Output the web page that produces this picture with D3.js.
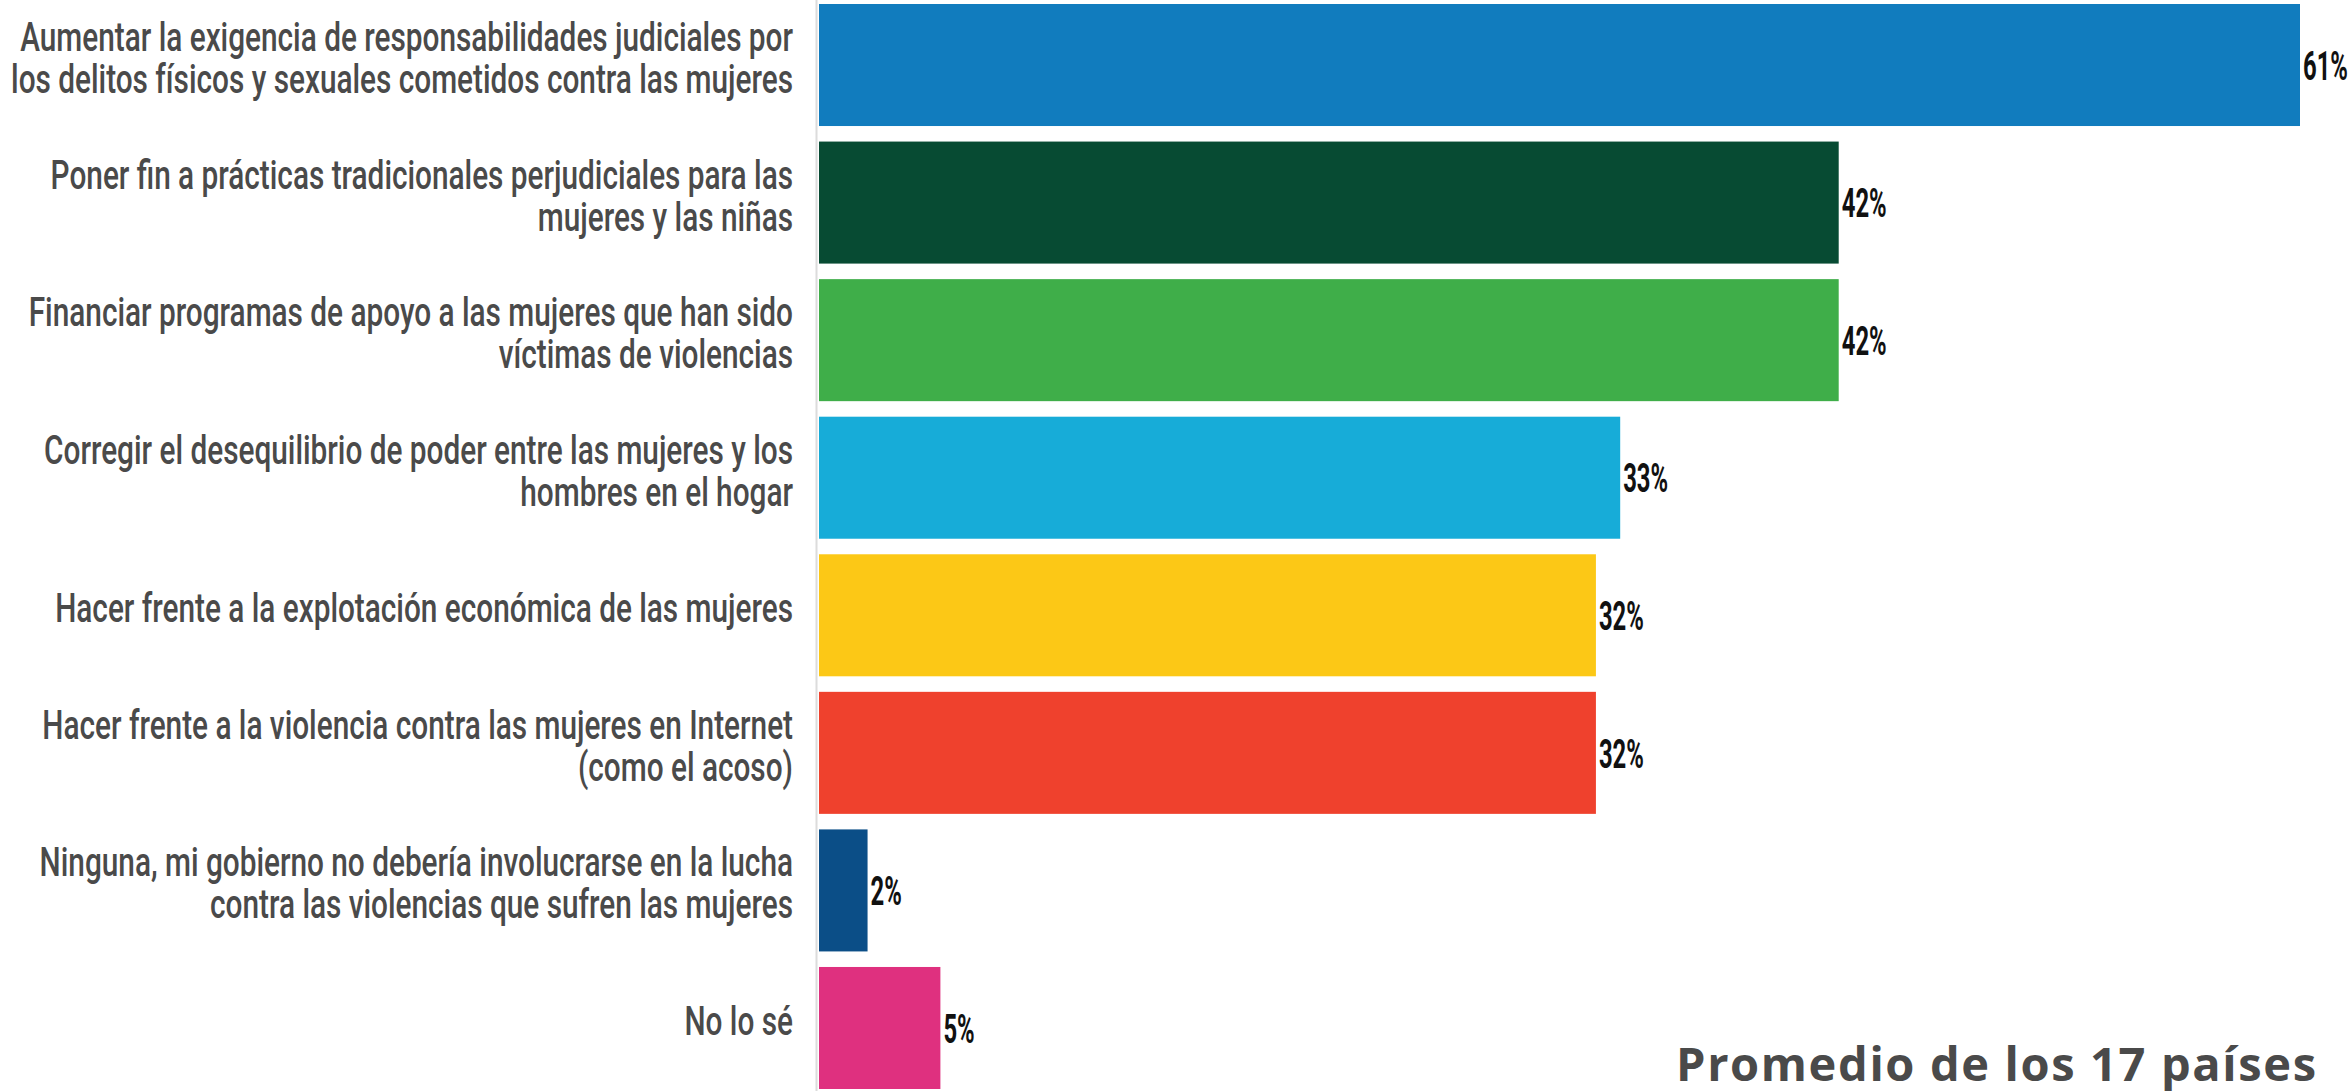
<!DOCTYPE html>
<html>
<head>
<meta charset="utf-8">
<script src="https://cdn.jsdelivr.net/npm/d3@7"></script>
<style>
  html, body { margin: 0; padding: 0; background: #fff; }
  svg { display: block; }
</style>
</head>
<body>
<div id="chart"></div>
<script>
const size = {
  width: 2351,
  height: 1091
}

// categories, one array of lines per bar
const labels = [
  ["Aumentar la exigencia de responsabilidades judiciales por", "los delitos físicos y sexuales cometidos contra las mujeres"],
  ["Poner fin a prácticas tradicionales perjudiciales para las", "mujeres y las niñas"],
  ["Financiar programas de apoyo a las mujeres que han sido", "víctimas de violencias"],
  ["Corregir el desequilibrio de poder entre las mujeres y los", "hombres en el hogar"],
  ["Hacer frente a la explotación económica de las mujeres"],
  ["Hacer frente a la violencia contra las mujeres en Internet", "(como el acoso)"],
  ["Ninguna, mi gobierno no debería involucrarse en la lucha", "contra las violencias que sufren las mujeres"],
  ["No lo sé"]
];
const values = [61, 42, 42, 33, 32, 32, 2, 5];
const colors = ["#117cbe", "#074b33", "#3fae49", "#17acd8", "#fcc816", "#ef412d", "#0b4e87", "#df307f"];
const footnote = "Promedio de los 17 países";

const ids = labels.map(function(d, i) { return i; });

const svg = d3.select("#chart")
  .append("svg")
  .attr("width", size.width)
  .attr("height", size.height);

var x = d3.scaleLinear().domain([0, 61]).range([819, 2300]),
    y = d3.scaleBand().domain(ids).range([4, 1089]).paddingInner(0.113).paddingOuter(0);

// axis line
svg.append("line")
    .attr("x1", 816.5).attr("x2", 816.5)
    .attr("y1", 0).attr("y2", size.height)
    .attr("stroke", "#dcdcdc")
    .attr("stroke-width", 2);

svg.selectAll(".bar")
    .data(values)
  .enter().append("rect")
    .attr("class", "bar")
    .attr("x", x(0))
    .attr("y", function(d, i) { return y(i); })
    .attr("width", function(d) { return x(d) - x(0); })
    .attr("height", y.bandwidth())
    .attr("fill", function(d, i) { return colors[i]; });

// category labels, condensed by squeezing Roboto horizontally
var labelG = svg.selectAll(".label")
    .data(labels)
  .enter().append("g")
    .attr("class", "label");

labelG.append("text")
    .attr("text-anchor", "end")
    .style("font-family", "Roboto, 'DejaVu Sans', sans-serif")
    .style("font-weight", 500)
    .style("font-size", "40px")
    .attr("fill", "#4a4a4a")
    .selectAll("tspan")
    .data(function(d) { return d.map(function(t, j) { return {t: t, j: j, n: d.length}; }); })
  .enter().append("tspan")
    .attr("x", 0)
    .attr("y", function(d) { return 7 - (d.n - 1) * 21 + d.j * 42; })
    .text(function(d) { return d.t; });

var refLine = labelG.filter(function(d, i) { return i === 0; }).select("tspan").node();
var sx = 773 / refLine.getComputedTextLength();

labelG.attr("transform", function(d, i) {
  return "translate(793," + (y(i) + y.bandwidth() / 2) + ") scale(" + sx + ",1)";
});

// value labels
var valG = svg.selectAll(".value")
    .data(values)
  .enter().append("g")
    .attr("class", "value");

valG.append("text")
    .attr("dy", "0.36em")
    .style("font-family", "Roboto, 'DejaVu Sans', sans-serif")
    .style("font-weight", 700)
    .style("font-size", "41px")
    .attr("fill", "#111")
    .text(function(d) { return d + "%"; });

var vx = 45 / valG.filter(function(d, i) { return i === 0; }).select("text").node().getComputedTextLength();

valG.attr("transform", function(d, i) {
  return "translate(" + (x(d) + 3) + "," + (y(i) + y.bandwidth() / 2) + ") scale(" + vx + ",1)";
});

svg.append("text")
    .attr("x", 1676)
    .attr("y", 1081)
    .attr("textLength", 640)
    .attr("lengthAdjust", "spacing")
    .style("font-family", "'Open Sans', sans-serif")
    .style("font-weight", 700)
    .style("font-size", "47px")
    .attr("fill", "#4a4a4a")
    .text(footnote);
</script>
</body>
</html>
